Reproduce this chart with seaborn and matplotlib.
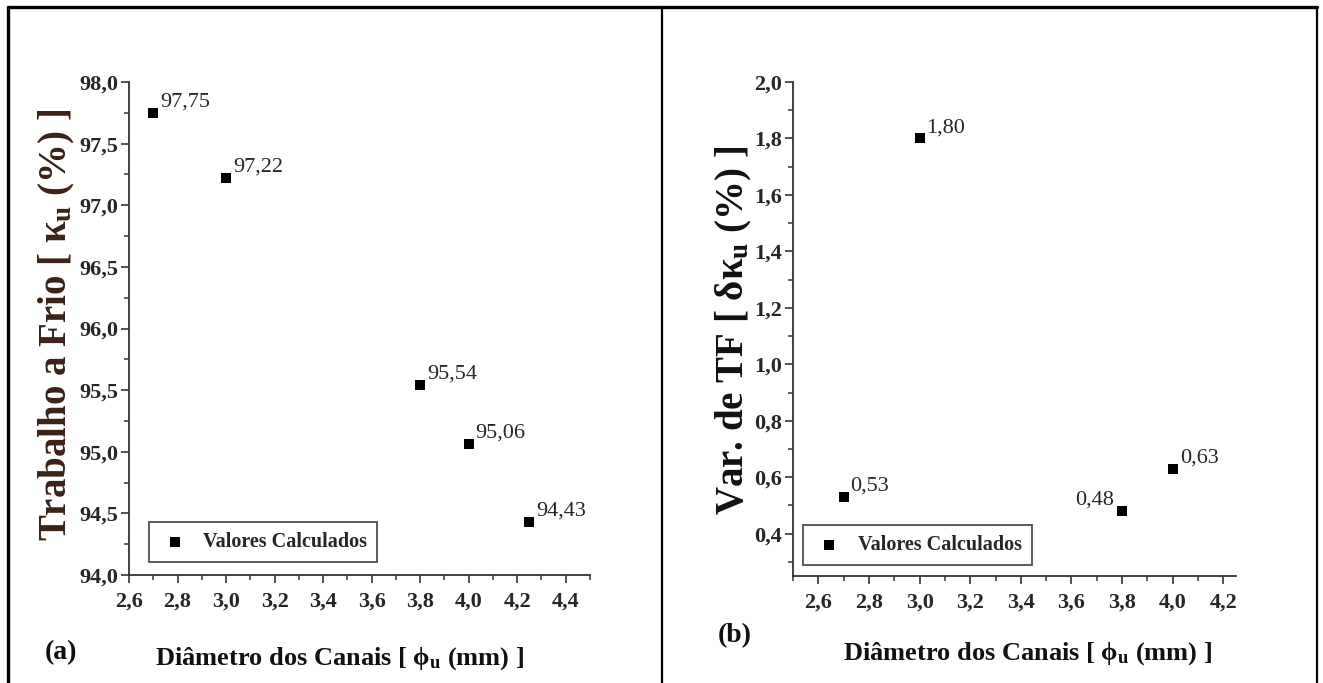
import matplotlib
matplotlib.use("Agg")
import matplotlib.pyplot as plt
from matplotlib.lines import Line2D
from matplotlib.ticker import MultipleLocator, FuncFormatter
import seaborn as sns
import pandas as pd

# Cold work (a) and its variation (b) against channel diameter
diam_a = [2.70, 3.00, 3.80, 4.00, 4.25]
trab_frio = [97.75, 97.22, 95.54, 95.06, 94.43]

diam_b = [2.70, 3.00, 3.80, 4.00]
var_tf = [0.53, 1.80, 0.48, 0.63]

legend_label = "Valores Calculados"

sns.set_theme(style="ticks")
plt.rcParams["font.family"] = ["Liberation Serif", "DejaVu Serif"]
plt.rcParams["mathtext.fontset"] = "custom"
plt.rcParams["mathtext.rm"] = "Liberation Serif"
plt.rcParams["mathtext.bf"] = "Liberation Serif:bold"
plt.rcParams["mathtext.it"] = "Liberation Serif:italic"

W, H = 1323, 683
fig = plt.figure(figsize=(W / 100, H / 100), dpi=100)
fig.patch.set_facecolor("white")


def px_axes(x0, y0, x1, y1):
    return fig.add_axes([x0 / W, 1 - y1 / H, (x1 - x0) / W, (y1 - y0) / H])


ax_a = px_axes(129, 82, 590, 575)
ax_b = px_axes(793, 82, 1236, 576)

comma = FuncFormatter(lambda v, p: f"{v:.1f}".replace(".", ","))
spine_col = "#333333"


def style(ax, xlim, ylim, xmaj, ymaj):
    ax.set_xlim(*xlim)
    ax.set_ylim(*ylim)
    ax.xaxis.set_major_locator(MultipleLocator(xmaj))
    ax.xaxis.set_minor_locator(MultipleLocator(xmaj / 2))
    ax.yaxis.set_major_locator(MultipleLocator(ymaj))
    ax.yaxis.set_minor_locator(MultipleLocator(ymaj / 2))
    ax.xaxis.set_major_formatter(comma)
    ax.yaxis.set_major_formatter(comma)
    for s in ("top", "right"):
        ax.spines[s].set_visible(False)
    for s in ("left", "bottom"):
        ax.spines[s].set_color(spine_col)
        ax.spines[s].set_linewidth(1.3)
    ax.tick_params(which="major", length=6, width=1.2, color=spine_col,
                   labelsize=16)
    ax.tick_params(which="minor", length=3.5, width=1.1, color=spine_col)
    ax.tick_params(axis="x", which="major", pad=6)
    ax.tick_params(axis="y", which="major", pad=2)
    for lab in ax.get_xticklabels() + ax.get_yticklabels():
        lab.set_fontweight("bold")
    ax.set_xlabel("")
    ax.set_ylabel("")


def points(ax, xs, ys, fmt, left_labels=()):
    df = pd.DataFrame({"x": xs, "y": ys})
    sns.scatterplot(data=df, x="x", y="y", ax=ax, marker="s", s=55,
                    color="black", edgecolor="black", linewidth=0,
                    label=legend_label, zorder=3)
    for xv, yv in zip(xs, ys):
        txt = fmt(yv)
        if yv in left_labels:
            ax.annotate(txt, (xv, yv), xytext=(-6, 1), textcoords="offset points",
                        ha="right", va="bottom", fontsize=16)
        else:
            ax.annotate(txt, (xv, yv), xytext=(5, 1), textcoords="offset points",
                        ha="left", va="bottom", fontsize=16)


points(ax_a, diam_a, trab_frio, lambda v: f"{v:.2f}".replace(".", ","))
points(ax_b, diam_b, var_tf, lambda v: f"{v:.2f}".replace(".", ","),
       left_labels=(0.48,))

style(ax_a, (2.6, 4.5), (94.0, 98.0), 0.2, 0.5)
style(ax_b, (2.5, 4.25), (0.25, 2.0), 0.2, 0.2)

for ax, anchor in ((ax_a, (0.043, 0.026)), (ax_b, (0.023, 0.022))):
    leg = ax.legend(loc="lower left", bbox_to_anchor=anchor, borderaxespad=0,
                    frameon=True, fancybox=False, shadow=False,
                    prop={"family": "Liberation Serif", "weight": "bold", "size": 14.5},
                    handletextpad=0.6, borderpad=0.5, handlelength=1.6,
                    markerscale=0.9)
    leg.get_frame().set_edgecolor("#222222")
    leg.get_frame().set_linewidth(1.3)

# axis titles
xlab = r"Diâmetro dos Canais [ $\mathbf{\phi_u}$ (mm) ]"
fig.text(339 / W, 1 - 665 / H, xlab, ha="center", va="baseline",
         fontsize=19, fontweight="bold", color="#111111")
fig.text(1027 / W, 1 - 660 / H, xlab, ha="center", va="baseline",
         fontsize=19, fontweight="bold", color="#111111")

fig.text(66 / W, 1 - 325 / H, r"Trabalho a Frio [ $\mathbf{\kappa_u}$ (%) ]",
         rotation=90, rotation_mode="anchor", ha="center", va="baseline",
         fontsize=28, fontweight="bold", color="#3a2218")
fig.text(743 / W, 1 - 330 / H, r"Var. de TF [ $\mathbf{\delta\kappa_u}$ (%) ]",
         rotation=90, rotation_mode="anchor", ha="center", va="baseline",
         fontsize=28, fontweight="bold", color="#111111")

fig.text(61 / W, 1 - 653 / H, "(a)", ha="center", va="center", fontsize=20,
         fontweight="bold", color="#111111")
fig.text(735 / W, 1 - 636 / H, "(b)", ha="center", va="center", fontsize=20,
         fontweight="bold", color="#111111")

# outer frame and panel divider
def vline(x, lw):
    fig.add_artist(Line2D([x / W, x / W], [1 - 7 / H, 0], transform=fig.transFigure,
                          color="black", linewidth=lw))


fig.add_artist(Line2D([8 / W, 1317 / W], [1 - 7 / H, 1 - 7 / H],
                      transform=fig.transFigure, color="black", linewidth=2.4))
vline(8, 2.4)
vline(662, 1.6)
vline(1317, 1.6)

fig.savefig("out.png", dpi=100, facecolor="white")
